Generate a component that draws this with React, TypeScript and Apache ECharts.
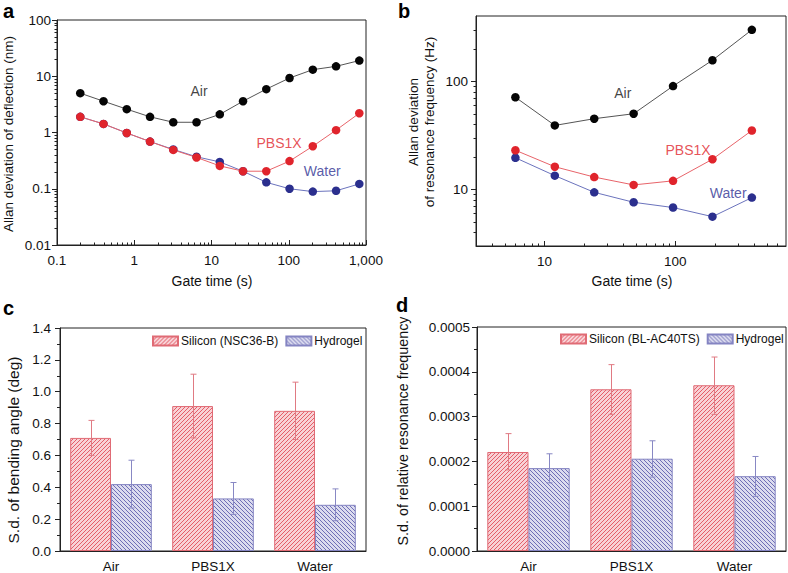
import React, { useEffect, useRef } from 'react';
import * as echarts from 'echarts';

// ---------- Panel a: Allan deviation of deflection ----------
const gateA = [0.2, 0.4, 0.8, 1.6, 3.2, 6.4, 12.8, 25.6, 51.2, 102.4, 204.8, 409.6, 819.2];
const airA = [5.0, 3.6, 2.6, 1.9, 1.52, 1.52, 2.1, 3.6, 5.9, 9.3, 13.1, 15.0, 19.0];
const pbsA = [1.9, 1.42, 0.98, 0.69, 0.49, 0.36, 0.255, 0.205, 0.205, 0.31, 0.57, 1.1, 2.2];
const waterA = [1.9, 1.42, 0.98, 0.69, 0.5, 0.37, 0.3, 0.205, 0.13, 0.1, 0.089, 0.092, 0.122];

// ---------- Panel b: Allan deviation of resonance frequency ----------
const gateB = [6, 12, 24, 48, 96, 192, 384];
const airB = [71, 39, 45, 50, 90, 156, 298];
const pbsB = [23, 16.2, 13, 11, 12, 19, 35];
const waterB = [19.6, 13.4, 9.4, 7.6, 6.8, 5.6, 8.4];

// ---------- Panels c, d ----------
const media = ['Air', 'PBS1X', 'Water'];
const siliconC = [0.71, 0.91, 0.88];
const siliconCLow = [0.6, 0.71, 0.7];
const siliconCHigh = [0.82, 1.11, 1.06];
const hydrogelC = [0.42, 0.33, 0.29];
const hydrogelCLow = [0.27, 0.23, 0.19];
const hydrogelCHigh = [0.57, 0.43, 0.39];

const siliconD = [0.000221, 0.000361, 0.00037];
const siliconDLow = [0.000181, 0.000305, 0.000305];
const siliconDHigh = [0.000262, 0.000416, 0.000433];
const hydrogelD = [0.000185, 0.000206, 0.000167];
const hydrogelDLow = [0.000152, 0.000165, 0.000122];
const hydrogelDHigh = [0.000217, 0.000246, 0.000211];

const legendC = ['Silicon (NSC36-B)', 'Hydrogel'];
const legendD = ['Silicon (BL-AC40TS)', 'Hydrogel'];

// in-plot annotations (data coordinates)
const annotA = [
  { text: 'Air', x: 6.9, y: 5.5, color: '#111111' },
  { text: 'PBS1X', x: 75, y: 0.65, color: '#e0262c' },
  { text: 'Water', x: 271, y: 0.208, color: '#2e3192' },
];
const annotB = [
  { text: 'Air', x: 39.7, y: 78, color: '#111111' },
  { text: 'PBS1X', x: 125, y: 23.1, color: '#e0262c' },
  { text: 'Water', x: 253, y: 9.25, color: '#2e3192' },
];

const FONT = '"Liberation Sans", Arial, Helvetica, sans-serif';
const AXIS = '#222222';

function minorLogTicks(min: number, max: number) {
  const out: number[] = [];
  for (let e = Math.floor(Math.log10(min)); e <= Math.ceil(Math.log10(max)); e++) {
    for (let k = 2; k <= 9; k++) {
      const v = k * Math.pow(10, e);
      if (v > min * 1.0001 && v < max * 0.9999) out.push(v);
    }
  }
  return out;
}

function hatch(bg: string, fg: string, dir: '/' | '\\') {
  const s = 4;
  const c = document.createElement('canvas');
  c.width = s;
  c.height = s;
  const ctx = c.getContext('2d')!;
  ctx.fillStyle = bg;
  ctx.fillRect(0, 0, s, s);
  ctx.strokeStyle = fg;
  ctx.lineWidth = 1;
  ctx.beginPath();
  if (dir === '/') {
    ctx.moveTo(-1, s + 1); ctx.lineTo(s + 1, -1);
    ctx.moveTo(-1, 1); ctx.lineTo(1, -1);
    ctx.moveTo(s - 1, s + 1); ctx.lineTo(s + 1, s - 1);
  } else {
    ctx.moveTo(-1, -1); ctx.lineTo(s + 1, s + 1);
    ctx.moveTo(s - 1, -1); ctx.lineTo(s + 1, 1);
    ctx.moveTo(-1, s - 1); ctx.lineTo(1, s + 1);
  }
  ctx.stroke();
  return { image: c, repeat: 'repeat', imageWidth: s, imageHeight: s } as any;
}

function fmtLog(v: number) {
  const n = Number(Number(v).toPrecision(6));
  return n >= 1000 ? n.toLocaleString('en-US') : String(n);
}

export default function App() {
  const ref = useRef<HTMLDivElement>(null);
  useEffect(() => {
    if (!ref.current) return;
    const chart = echarts.init(ref.current, undefined, { renderer: 'svg' });

    const redFill = hatch('#f8d2d6', '#e45e69', '/');
    const blueFill = hatch('#dcdcef', '#6f6fb6', '\\');
    const RED_BORDER = '#e06b75';
    const BLUE_BORDER = '#8484c2';
    const RED_ERR = '#e07a83';
    const BLUE_ERR = '#8888c4';

    const grids = [
      { left: 57, top: 20, width: 309, height: 225 },
      { left: 476, top: 16, width: 310, height: 230 },
      { left: 60, top: 328, width: 306, height: 224 },
      { left: 477, top: 327, width: 309, height: 225 },
    ].map((g) => ({ ...g, show: true, borderColor: AXIS, borderWidth: 1, backgroundColor: 'transparent' }));

    const labelStyle = { fontFamily: FONT, fontSize: 13.5, color: '#111' };

    const logX = (idx: number, min: number, max: number, hideEnds: boolean) => ({
      type: 'log', logBase: 10, gridIndex: idx, min, max,
      axisLine: { onZero: false, lineStyle: { color: AXIS, width: 1 } },
      axisTick: { inside: true, length: 5, lineStyle: { color: AXIS } },
      axisLabel: { ...labelStyle, margin: 8, formatter: fmtLog, showMinLabel: !hideEnds, showMaxLabel: !hideEnds },
      splitLine: { show: false },
    });
    const logY = (idx: number, min: number, max: number, hideEnds: boolean, margin: number) => ({
      type: 'log', logBase: 10, gridIndex: idx, min, max,
      axisLine: { onZero: false, lineStyle: { color: AXIS, width: 1 } },
      axisTick: { inside: false, length: 5, lineStyle: { color: AXIS } },
      axisLabel: { ...labelStyle, margin, formatter: fmtLog, showMinLabel: !hideEnds, showMaxLabel: !hideEnds },
      splitLine: { show: false },
    });
    const catX = (idx: number) => ({
      type: 'category', gridIndex: idx, data: media,
      axisLine: { lineStyle: { color: AXIS } },
      axisTick: { show: false },
      axisLabel: { ...labelStyle, margin: 8 },
    });
    const valY = (idx: number, max: number, interval: number, digits: number, margin: number) => ({
      type: 'value', gridIndex: idx, min: 0, max, interval,
      axisLine: { show: true, lineStyle: { color: AXIS } },
      axisTick: { show: true, inside: false, length: 5, lineStyle: { color: AXIS } },
      minorTick: { show: true, splitNumber: 2, length: 3, lineStyle: { color: AXIS } },
      axisLabel: { ...labelStyle, margin, formatter: (v: number) => v.toFixed(digits) },
      splitLine: { show: false },
      minorSplitLine: { show: false },
    });

    const lineSeries = (idx: number, xs: number[], ys: number[], marker: string, line: string, z: number) => ({
      type: 'line', xAxisIndex: idx, yAxisIndex: idx, z,
      data: xs.map((x, i) => [x, ys[i]]),
      symbol: 'circle', symbolSize: 8.5,
      itemStyle: { color: marker, borderWidth: 0 },
      lineStyle: { color: line, width: 1 },
    });

    const tickSeries = (idx: number, values: number[], axis: 'x' | 'y', fixed: number, len: number) => ({
      type: 'custom', xAxisIndex: idx, yAxisIndex: idx, silent: true, z: 1,
      data: values.map((v) => (axis === 'x' ? [v, fixed] : [fixed, v])),
      renderItem: (_p: any, api: any) => {
        const pt = api.coord([api.value(0), api.value(1)]);
        const x = Math.round(pt[0]) + 0.5;
        const y = Math.round(pt[1]) + 0.5;
        return axis === 'x'
          ? { type: 'line', shape: { x1: x, y1: y, x2: x, y2: y - len }, style: { stroke: AXIS, lineWidth: 1 } }
          : { type: 'line', shape: { x1: x, y1: y, x2: x - len, y2: y }, style: { stroke: AXIS, lineWidth: 1 } };
      },
    });

    const annotSeries = (idx: number, list: { text: string; x: number; y: number; color: string }[]) => ({
      type: 'scatter', xAxisIndex: idx, yAxisIndex: idx, silent: true, z: 5,
      symbolSize: 1, itemStyle: { color: 'rgba(0,0,0,0)' },
      data: list.map((a) => ({
        value: [a.x, a.y],
        label: { show: true, position: 'inside', formatter: a.text, color: a.color, fontFamily: FONT, fontSize: 14 },
      })),
    });

    const barSeries = (idx: number, name: string, data: number[], fill: any, border: string) => ({
      type: 'bar', name, xAxisIndex: idx, yAxisIndex: idx, data,
      barGap: '0%', barCategoryGap: '20%', z: 2,
      itemStyle: { color: fill, borderColor: border, borderWidth: 1 },
    });

    const errSeries = (idx: number, low: number[], high: number[], side: number, color: string) => ({
      type: 'custom', xAxisIndex: idx, yAxisIndex: idx, silent: true, z: 4,
      encode: { x: 0, y: [1, 2] },
      data: low.map((l, i) => [i, l, high[i]]),
      renderItem: (_p: any, api: any) => {
        const top = api.coord([api.value(0), api.value(2)]);
        const bot = api.coord([api.value(0), api.value(1)]);
        const bw = (api.size([1, 0])[0] * 0.8) / 2;
        const x = Math.round(top[0] + (side * bw) / 2) + 0.5;
        const cap = 3;
        const st = { stroke: color, lineWidth: 1 };
        return {
          type: 'group',
          children: [
            { type: 'line', shape: { x1: x, y1: top[1], x2: x, y2: bot[1] }, style: st },
            { type: 'line', shape: { x1: x - cap, y1: top[1], x2: x + cap, y2: top[1] }, style: st },
            { type: 'line', shape: { x1: x - cap, y1: bot[1], x2: x + cap, y2: bot[1] }, style: st },
          ],
        };
      },
    });

    const title = (text: string, x: number, y: number, size: number, rotate: boolean, extra: any = {}) => ({
      type: 'text', x, y, rotation: rotate ? Math.PI / 2 : 0, silent: true,
      style: {
        text, fill: '#111', font: `${size}px ${FONT}`,
        textAlign: 'center', textVerticalAlign: 'middle', align: 'center', verticalAlign: 'middle',
        ...extra,
      },
    });
    const letter = (text: string, x: number, y: number) => ({
      type: 'text', x, y, silent: true,
      style: { text, fill: '#000', font: `bold 20px ${FONT}`, textAlign: 'left', textVerticalAlign: 'middle', align: 'left', verticalAlign: 'middle' },
    });

    const legendBase = {
      itemWidth: 25, itemHeight: 9, itemGap: 7, width: 260, orient: 'horizontal',
      icon: 'rect', selectedMode: false,
      textStyle: { fontFamily: FONT, fontSize: 12, color: '#111', padding: [0, 0, 0, -2] },
    };

    const option: any = {
      animation: false,
      textStyle: { fontFamily: FONT },
      grid: grids,
      xAxis: [logX(0, 0.1, 1000, false), logX(1, 3, 700, true), catX(2), catX(3)],
      yAxis: [
        logY(0, 0.01, 100, false, 6),
        logY(1, 3, 400, true, 8),
        valY(2, 1.4, 0.2, 1, 9),
        valY(3, 0.0005, 0.0001, 4, 7),
      ],
      legend: [
        { ...legendBase, data: legendC, left: 147, top: 330 },
        { ...legendBase, data: legendD, left: 555, top: 328 },
      ],
      series: [
        // panel a
        tickSeries(0, minorLogTicks(0.1, 1000), 'x', 0.01, 3),
        tickSeries(0, minorLogTicks(0.01, 100), 'y', 0.1, 3),
        lineSeries(0, gateA, airA, '#050505', '#555555', 3),
        lineSeries(0, gateA, waterA, '#2b2f8e', '#6b73bd', 3),
        lineSeries(0, gateA, pbsA, '#e0242c', '#e8646a', 4),
        annotSeries(0, annotA),
        // panel b
        tickSeries(1, minorLogTicks(3, 700), 'x', 3, 3),
        tickSeries(1, minorLogTicks(3, 400), 'y', 3, 3),
        lineSeries(1, gateB, airB, '#050505', '#555555', 3),
        lineSeries(1, gateB, waterB, '#2b2f8e', '#6b73bd', 3),
        lineSeries(1, gateB, pbsB, '#e0242c', '#e8646a', 4),
        annotSeries(1, annotB),
        // panel c
        barSeries(2, legendC[0], siliconC, redFill, RED_BORDER),
        barSeries(2, legendC[1], hydrogelC, blueFill, BLUE_BORDER),
        errSeries(2, siliconCLow, siliconCHigh, -1, RED_ERR),
        errSeries(2, hydrogelCLow, hydrogelCHigh, 1, BLUE_ERR),
        // panel d
        barSeries(3, legendD[0], siliconD, redFill, RED_BORDER),
        barSeries(3, legendD[1], hydrogelD, blueFill, BLUE_BORDER),
        errSeries(3, siliconDLow, siliconDHigh, -1, RED_ERR),
        errSeries(3, hydrogelDLow, hydrogelDHigh, 1, BLUE_ERR),
      ],
      graphic: [
        letter('a', 3, 11),
        letter('b', 398, 11),
        letter('c', 3, 308),
        letter('d', 396, 305),
        title('Allan deviation of deflection (nm)', 8, 134, 13.5, true),
        title('Allan deviation\nof resonance frequency (Hz)', 421, 122, 13.5, true, { lineHeight: 16 }),
        title('Gate time (s)', 212, 281, 14, false),
        title('Gate time (s)', 632, 281, 14, false),
        title('S.d. of bending angle (deg)', 13, 450, 15.5, true),
        title('S.d. of relative resonance frequency', 403, 431, 14.3, true),
      ],
    };

    chart.setOption(option);
    return () => chart.dispose();
  }, []);

  return <div ref={ref} style={{ position: 'fixed', left: 0, top: 0, width: 788, height: 573, background: '#fff' }} />;
}
